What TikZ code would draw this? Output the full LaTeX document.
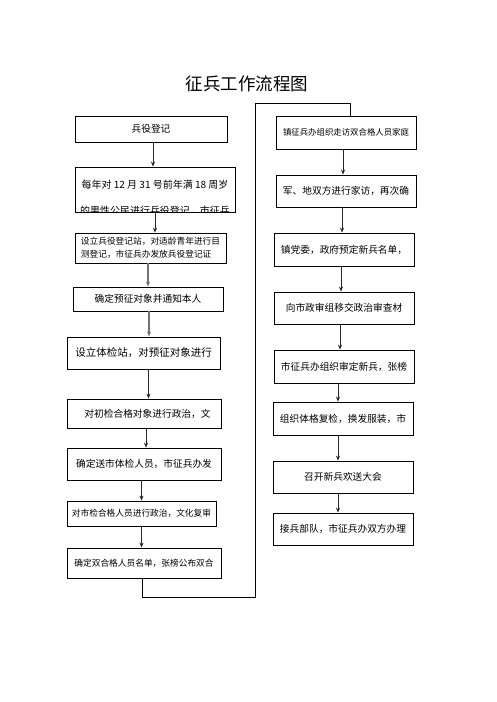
\documentclass[tikz,border=0pt]{standalone}
\usepackage{fontspec}
\newfontfamily\cjk{Noto Sans CJK SC}
\usetikzlibrary{arrows.meta,calc}

\begin{document}
\begin{tikzpicture}[x=1pt, y=-1pt,
    stepbox/.style={rectangle, draw=black, line width=0.8pt, inner sep=2pt, font=\cjk\fontsize{9.7}{12}\selectfont},
    smallbox/.style={stepbox, font=\cjk\fontsize{8.7}{13}\selectfont},
    flow/.style={-{Stealth[length=5pt, width=4pt]}, line width=0.8pt, black!85},
    greyflow/.style={flow, black!55, line width=1.1pt},
    link/.style={line width=0.8pt, black}
]
\useasboundingbox (0,0) rectangle (496,702);

% Title
\node[font=\cjk\fontsize{17.5}{20}\selectfont] (title) at (247,84) {征兵工作流程图};

% Left column
\node[stepbox, minimum width=152, minimum height=26] (b1) at (151,129) {兵役登记};
\node[stepbox, minimum width=160, minimum height=45] (b2) at (155,189.5) {};
\begin{scope}
  \clip (b2.north west) rectangle (b2.south east);
  \node[font=\cjk\fontsize{10}{12}\selectfont] (b2a) at (155,185) {每年对 12 月 31 号前年满 18 周岁};
  \node[font=\cjk\fontsize{10}{12}\selectfont] (b2b) at (155,211) {的男性公民进行兵役登记，市征兵};
\end{scope}
\node[smallbox, align=left, minimum width=151, minimum height=30] (b3) at (150.5,248) {设立兵役登记站，对适龄青年进行目\\测登记，市征兵办发放兵役登记证};
\node[stepbox, minimum width=150, minimum height=24] (b4) at (148,299) {确定预征对象并通知本人};
\node[stepbox, font=\cjk\fontsize{10.5}{12}\selectfont, minimum width=153, minimum height=32] (b5) at (143.5,353) {设立体检站，对预征对象进行};
\node[stepbox, minimum width=154, minimum height=29] (b6) at (144,413.5) {\hspace{7pt}对初检合格对象进行政治，文};
\node[stepbox, minimum width=154, minimum height=32] (b7) at (144,464) {确定送市体检人员，市征兵办发};
\node[smallbox, minimum width=149, minimum height=25] (b8) at (141.5,513.5) {对市检合格人员进行政治，文化复审};
\node[smallbox, minimum width=154, minimum height=30] (b9) at (144,563) {确定双合格人员名单，张榜公布双合};

% Right column
\node[stepbox, font=\cjk\fontsize{8.4}{10}\selectfont, minimum width=140, minimum height=33] (r1) at (346,132.5) {镇征兵办组织走访双合格人员家庭};
\node[stepbox, minimum width=140, minimum height=32] (r2) at (346,191) {军、地双方进行家访，再次确};
\node[stepbox, minimum width=140, minimum height=33] (r3) at (344,249.5) {镇党委，政府预定新兵名单，};
\node[stepbox, minimum width=140, minimum height=32] (r4) at (344,308) {向市政审组移交政治审查材};
\node[stepbox, minimum width=140, minimum height=33] (r5) at (344,366.5) {市征兵办组织审定新兵，张榜};
\node[stepbox, minimum width=140, minimum height=33] (r6) at (343,418.5) {组织体格复检，换发服装，市};
\node[stepbox, minimum width=140, minimum height=32] (r7) at (343,477) {召开新兵欢送大会};
\node[stepbox, minimum width=140, minimum height=32] (r8) at (343,529) {接兵部队，市征兵办双方办理};

% Left arrows
\draw[flow] ([xshift=2pt]b1.south) -- ([xshift=2pt]b1.south |- b2.north);
\draw[flow] (b2.south) -- (b2.south |- b3.north);
\draw[greyflow] (b4.north |- b3.south) -- (b4.north);
\draw[greyflow] ([xshift=1pt]b4.south) -- ([xshift=1pt]b4.south |- b5.north);
\draw[flow] ([xshift=5pt]b5.south) -- ([xshift=5pt]b5.south |- b6.north);
\draw[flow] ([xshift=2pt]b6.south) -- ([xshift=2pt]b6.south |- b7.north);
\draw[flow] (b8.north |- b7.south) -- (b8.north);
\draw[flow] (b8.south) -- (b8.south |- b9.north);

% Right arrows
\draw[flow] ([xshift=-3pt]r1.south) -- ([xshift=-3pt]r1.south |- r2.north);
\draw[flow] ([xshift=-2pt]r3.north |- r2.south) -- ([xshift=-2pt]r3.north);
\draw[flow] ([xshift=-3pt]r3.south) -- ([xshift=-3pt]r3.south |- r4.north);
\draw[flow] ([xshift=-4pt]r4.south) -- ([xshift=-4pt]r4.south |- r5.north);
\draw[flow] ([xshift=-5pt]r6.north |- r5.south) -- ([xshift=-5pt]r6.north);
\draw[flow] ([xshift=-5pt]r6.south) -- ([xshift=-5pt]r6.south |- r7.north);
\draw[flow] ([xshift=-5pt]r7.south) -- ([xshift=-5pt]r7.south |- r8.north);

% Link from bottom of left column to top of right column
\coordinate (lowturn) at (255,597);
\coordinate (highturn) at (255,103);
\draw[link] ([xshift=-2pt]b9.south) |- (lowturn) -- (highturn) -| ([xshift=4pt]r1.north);

\end{tikzpicture}
\end{document}
